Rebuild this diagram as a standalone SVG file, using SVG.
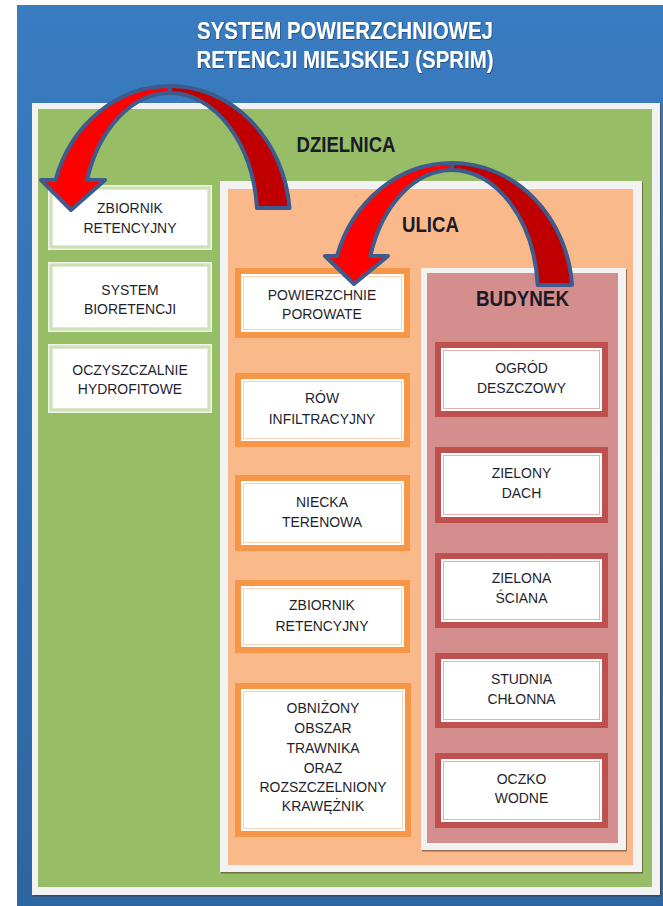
<svg xmlns="http://www.w3.org/2000/svg" width="663" height="906" viewBox="0 0 663 906">
<defs>
<linearGradient id="bg" x1="0" y1="0" x2="0" y2="1">
<stop offset="0" stop-color="#3a7cc1"/>
<stop offset="1" stop-color="#2d66a2"/>
</linearGradient>
<filter id="ts" x="-5%" y="-20%" width="110%" height="140%">
<feDropShadow dx="0.6" dy="0.8" stdDeviation="0.7" flood-color="#10284a" flood-opacity="0.7"/>
</filter>
</defs>
<style>
.t{font-family:"Liberation Sans",Arial,sans-serif;font-size:15.5px;fill:#1f1f2e;text-anchor:middle}
.h{font-family:"Liberation Sans",Arial,sans-serif;font-weight:bold;font-size:22px;fill:#1a1a28;text-anchor:middle}
.ti{font-family:"Liberation Sans",Arial,sans-serif;font-weight:bold;font-size:23px;fill:#ffffff;text-anchor:middle}
.frame{fill:#f2f2f2}
.sh{fill:#4a3020;opacity:0.55}
.ob{fill:#f79646}
.rb{fill:#c0504d}
.gb{fill:#cfe0b6;stroke:#eef4e6;stroke-width:1.5}
.wi{fill:#ffffff}
.ol{fill:#ffffff;stroke:#fbd3b3;stroke-width:1}
.rl{fill:#ffffff;stroke:#e6aeac;stroke-width:1}
.gl{fill:#ffffff;stroke:#dfe9d0;stroke-width:1}
.ar{stroke:#3d5b8c;stroke-width:4;stroke-linejoin:round}
</style>
<rect x="0" y="0" width="663" height="906" fill="#ffffff"/>
<g id="sprim">
<rect x="17" y="5" width="646" height="901" fill="url(#bg)"/>
<text class="ti" filter="url(#ts)" x="345" y="39" textLength="296" lengthAdjust="spacingAndGlyphs">SYSTEM POWIERZCHNIOWEJ</text>
<text class="ti" filter="url(#ts)" x="345" y="68" textLength="297" lengthAdjust="spacingAndGlyphs">RETENCJI MIEJSKIEJ (SPRIM)</text>
</g>
<g id="dzielnica">
<rect class="sh" x="33" y="104.5" width="628" height="792"/>
<rect class="frame" x="32" y="103" width="628" height="792"/>
<rect x="38" y="109" width="614" height="778" fill="#97bd66"/>
<text class="h" x="346" y="152" textLength="99" lengthAdjust="spacingAndGlyphs">DZIELNICA</text>
</g>
<g id="d-zbiornik">
<rect class="gb" x="48.75" y="185.75" width="162.5" height="63.5"/>
<rect class="gl" x="52.5" y="189.5" width="155" height="56"/>
<text class="t" transform="translate(130 0) scale(0.9 1)"><tspan x="0" y="213">ZBIORNIK</tspan><tspan x="0" y="233">RETENCYJNY</tspan></text>
</g>
<g id="d-bioretencja">
<rect class="gb" x="48.75" y="262.75" width="162.5" height="68.5"/>
<rect class="gl" x="52.5" y="266.5" width="155" height="61"/>
<text class="t" transform="translate(130 0) scale(0.9 1)"><tspan x="0" y="295">SYSTEM</tspan><tspan x="0" y="314">BIORETENCJI</tspan></text>
</g>
<g id="d-oczyszczalnie">
<rect class="gb" x="48.75" y="344.75" width="162.5" height="67.5"/>
<rect class="gl" x="52.5" y="348.5" width="155" height="60"/>
<text class="t" transform="translate(130 0) scale(0.9 1)"><tspan x="0" y="375">OCZYSZCZALNIE</tspan><tspan x="0" y="394.5">HYDROFITOWE</tspan></text>
</g>
<g id="ulica">
<rect class="sh" x="221" y="182.5" width="422" height="691"/>
<rect class="frame" x="220" y="181" width="422" height="691"/>
<rect x="228" y="189" width="405" height="676" fill="#fab98b"/>
<text class="h" x="430.5" y="232" textLength="57" lengthAdjust="spacingAndGlyphs">ULICA</text>
</g>
<g id="u-powierzchnie">
<rect class="ob" x="235" y="268" width="175" height="70"/>
<rect class="wi" x="241" y="274" width="163" height="58"/>
<rect class="ol" x="243.5" y="276.5" width="158" height="53"/>
<text class="t" transform="translate(322 0) scale(0.9 1)"><tspan x="0" y="300">POWIERZCHNIE</tspan><tspan x="0" y="319">POROWATE</tspan></text>
</g>
<g id="u-row">
<rect class="ob" x="235" y="373" width="175" height="74"/>
<rect class="wi" x="241" y="379" width="163" height="62"/>
<rect class="ol" x="243.5" y="381.5" width="158" height="57"/>
<text class="t" transform="translate(322 0) scale(0.9 1)"><tspan x="0" y="403.5">RÓW</tspan><tspan x="0" y="424">INFILTRACYJNY</tspan></text>
</g>
<g id="u-niecka">
<rect class="ob" x="235" y="475" width="175" height="76"/>
<rect class="wi" x="241" y="481" width="163" height="64"/>
<rect class="ol" x="243.5" y="483.5" width="158" height="59"/>
<text class="t" transform="translate(322 0) scale(0.9 1)"><tspan x="0" y="507">NIECKA</tspan><tspan x="0" y="527">TERENOWA</tspan></text>
</g>
<g id="u-zbiornik">
<rect class="ob" x="235" y="580" width="175" height="73"/>
<rect class="wi" x="241" y="586" width="163" height="61"/>
<rect class="ol" x="243.5" y="588.5" width="158" height="56"/>
<text class="t" transform="translate(322 0) scale(0.9 1)"><tspan x="0" y="610">ZBIORNIK</tspan><tspan x="0" y="631">RETENCYJNY</tspan></text>
</g>
<g id="u-obnizony">
<rect class="ob" x="235" y="683" width="176" height="154"/>
<rect class="wi" x="241" y="689" width="164" height="142"/>
<rect class="ol" x="243.5" y="691.5" width="159" height="137"/>
<text class="t" transform="translate(323 0) scale(0.9 1)"><tspan x="0" y="713">OBNIŻONY</tspan><tspan x="0" y="733">OBSZAR</tspan><tspan x="0" y="753">TRAWNIKA</tspan><tspan x="0" y="773">ORAZ</tspan><tspan x="0" y="792">ROZSZCZELNIONY</tspan><tspan x="0" y="811">KRAWĘŻNIK</tspan></text>
</g>
<g id="budynek">
<rect class="sh" x="422" y="269.5" width="205" height="582"/>
<rect class="frame" x="421" y="268" width="205" height="582"/>
<rect x="427" y="273" width="191" height="570" fill="#d48e8d"/>
<text class="h" x="522.5" y="306" textLength="93" lengthAdjust="spacingAndGlyphs">BUDYNEK</text>
</g>
<g id="b-ogrod">
<rect class="rb" x="435" y="342" width="173" height="75"/>
<rect class="wi" x="441" y="348" width="161" height="63"/>
<rect class="rl" x="443.5" y="350.5" width="156" height="58"/>
<text class="t" transform="translate(521.5 0) scale(0.9 1)"><tspan x="0" y="373">OGRÓD</tspan><tspan x="0" y="393">DESZCZOWY</tspan></text>
</g>
<g id="b-dach">
<rect class="rb" x="435" y="447" width="173" height="76"/>
<rect class="wi" x="441" y="453" width="161" height="64"/>
<rect class="rl" x="443.5" y="455.5" width="156" height="59"/>
<text class="t" transform="translate(521.5 0) scale(0.9 1)"><tspan x="0" y="478">ZIELONY</tspan><tspan x="0" y="498">DACH</tspan></text>
</g>
<g id="b-sciana">
<rect class="rb" x="435" y="553" width="173" height="75"/>
<rect class="wi" x="441" y="559" width="161" height="63"/>
<rect class="rl" x="443.5" y="561.5" width="156" height="58"/>
<text class="t" transform="translate(521.5 0) scale(0.9 1)"><tspan x="0" y="583">ZIELONA</tspan><tspan x="0" y="603">ŚCIANA</tspan></text>
</g>
<g id="b-studnia">
<rect class="rb" x="435" y="653" width="173" height="75"/>
<rect class="wi" x="441" y="659" width="161" height="63"/>
<rect class="rl" x="443.5" y="661.5" width="156" height="58"/>
<text class="t" transform="translate(521.5 0) scale(0.9 1)"><tspan x="0" y="684.5">STUDNIA</tspan><tspan x="0" y="703.5">CHŁONNA</tspan></text>
</g>
<g id="b-oczko">
<rect class="rb" x="435" y="753" width="173" height="75"/>
<rect class="wi" x="441" y="759" width="161" height="63"/>
<rect class="rl" x="443.5" y="761.5" width="156" height="58"/>
<text class="t" transform="translate(521.5 0) scale(0.9 1)"><tspan x="0" y="784.5">OCZKO</tspan><tspan x="0" y="803.5">WODNE</tspan></text>
</g>
<g id="connectors">
<path class="ar" fill="#c00000" d="M170,86 A120 134 0 0 1 289.5,208 L257,208 A87.5 127 0 0 0 170,93 Z"/>
<path class="ar" fill="#ff0000" d="M87,180 L105,180 L71,210 L41,180 L55.5,180 A120 134 0 0 1 170,86 L170,93 A87.5 127 0 0 0 87,180 Z"/>
<path class="ar" fill="#c00000" d="M452,163 A120.4 132 0 0 1 572,285 L537.7,285 A86 125 0 0 0 452,170 Z"/>
<path class="ar" fill="#ff0000" d="M370.3,256 L388,256 L354,284 L325,256 L337,256 A120.4 132 0 0 1 452,163 L452,170 A86 125 0 0 0 370.3,256 Z"/>
</g>
</svg>
